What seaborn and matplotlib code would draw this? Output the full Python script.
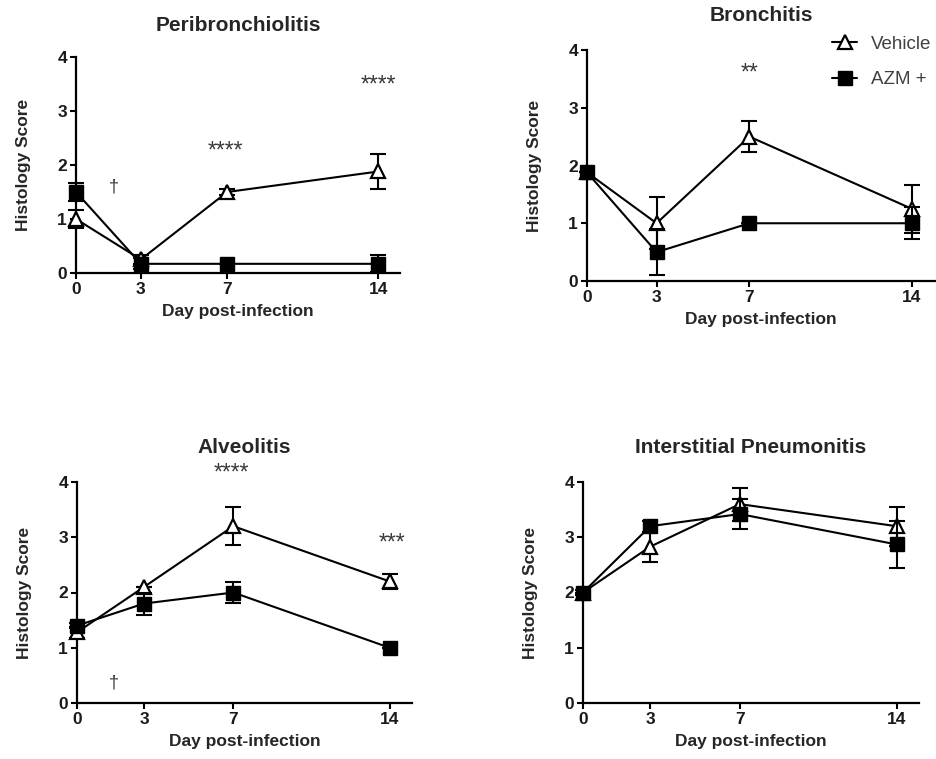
import matplotlib
matplotlib.use("Agg")
import matplotlib.pyplot as plt
import seaborn as sns
import numpy as np

sns.set_style("ticks")
plt.rcParams['font.family'] = ['Liberation Sans', 'DejaVu Sans']

days = [0, 3, 7, 14]
xtick_labels = ["0", "3", "7", "14"]
yticks = [0, 1, 2, 3, 4]

titles = ["Peribronchiolitis", "Bronchitis", "Alveolitis", "Interstitial Pneumonitis"]

veh_peri = [1.0, 0.25, 1.5, 1.88]
veh_peri_err = [0.17, 0.08, 0.05, 0.33]
azm_peri = [1.5, 0.17, 0.17, 0.17]
azm_peri_err = [0.17, 0.1, 0.0, 0.16]

veh_bron = [1.88, 1.0, 2.5, 1.25]
veh_bron_err = [0.0, 0.45, 0.27, 0.42]
azm_bron = [1.88, 0.5, 1.0, 1.0]
azm_bron_err = [0.0, 0.4, 0.0, 0.28]

veh_alv = [1.28, 2.1, 3.2, 2.2]
veh_alv_err = [0.1, 0.0, 0.34, 0.13]
azm_alv = [1.4, 1.8, 2.0, 1.0]
azm_alv_err = [0.05, 0.2, 0.19, 0.0]

veh_int = [2.0, 2.83, 3.6, 3.2]
veh_int_err = [0.0, 0.27, 0.3, 0.35]
azm_int = [2.0, 3.2, 3.42, 2.87]
azm_int_err = [0.05, 0.1, 0.27, 0.43]

# significance annotations: (text, x, y)
annot_peri = [("****", 6.9, 2.26), ("****", 14.0, 3.48), ("\u2020", 1.75, 1.6)]
annot_bron = [("**", 7.0, 3.6)]
annot_alv = [("****", 6.9, 4.16), ("***", 14.1, 2.89), ("\u2020", 1.65, 0.36)]
annot_int = []

panels = [
    (titles[0], veh_peri, veh_peri_err, azm_peri, azm_peri_err, annot_peri,
     [76/936, 1-273/759, 324/936, 216/759], 19),
    (titles[1], veh_bron, veh_bron_err, azm_bron, azm_bron_err, annot_bron,
     [587/936, 1-281/759, 348/936, 231/759], 21),
    (titles[2], veh_alv, veh_alv_err, azm_alv, azm_alv_err, annot_alv,
     [77/936, 1-703/759, 335/936, 221/759], 21),
    (titles[3], veh_int, veh_int_err, azm_int, azm_int_err, annot_int,
     [583/936, 1-703/759, 336/936, 221/759], 21),
]

fig = plt.figure(figsize=(9.36, 7.59), dpi=100)

for i, (title, veh, veh_err, azm, azm_err, annots, pos, tpad) in enumerate(panels):
    ax = fig.add_axes(pos)
    ax.errorbar(days, veh, yerr=veh_err, fmt='none', ecolor='black', elinewidth=1.5,
                capsize=6, capthick=1.5, zorder=2, clip_on=False)
    sns.lineplot(x=days, y=veh, ax=ax, color='black', linewidth=1.5, marker='^',
                 markersize=10.5, markerfacecolor='white', markeredgecolor='black',
                 markeredgewidth=1.6, label='Vehicle', zorder=3, clip_on=False,
                 errorbar=None)
    ax.errorbar(days, azm, yerr=azm_err, fmt='none', ecolor='black', elinewidth=1.5,
                capsize=6, capthick=1.5, zorder=4, clip_on=False)
    sns.lineplot(x=days, y=azm, ax=ax, color='black', linewidth=1.5, marker='s',
                 markersize=10, markerfacecolor='black', markeredgecolor='black',
                 markeredgewidth=1.0, label='AZM +', zorder=5, clip_on=False,
                 errorbar=None)
    ax.set_xlim(0, 15)
    ax.set_ylim(0, 4)
    ax.set_xticks(days)
    ax.set_xticklabels(xtick_labels)
    ax.set_yticks(yticks)
    ax.set_yticklabels([str(v) for v in yticks])
    sns.despine(ax=ax)
    for s in ['left', 'bottom']:
        ax.spines[s].set_linewidth(1.6)
        ax.spines[s].set_color('black')
    ax.tick_params(axis='both', direction='out', length=4.5, width=1.5, color='black',
                   labelsize=12.5, pad=2)
    for lab in ax.get_xticklabels() + ax.get_yticklabels():
        lab.set_fontweight('bold')
        lab.set_color('#1a1a1a')
    ax.set_xlabel("Day post-infection", fontsize=12.5, fontweight='bold', labelpad=5)
    ax.set_ylabel("Histology Score", fontsize=12.5, fontweight='bold', labelpad=19)
    ax.set_title(title, fontsize=15, fontweight='bold', pad=tpad)
    for txt, xx, yy in annots:
        fs = 16.5 if txt.startswith('*') else 13
        ax.text(xx, yy, txt, ha='center', va='center', fontsize=fs, color='#3a3a3a',
                clip_on=False)
    if i == 1:
        leg = ax.legend(loc='upper left', bbox_to_anchor=(0.705, 1.062), frameon=False,
                        fontsize=13.5, handlelength=1.3, handletextpad=0.75,
                        labelspacing=0.98, borderpad=0, borderaxespad=0)
        for t in leg.get_texts():
            t.set_color('#404040')
    else:
        lg = ax.get_legend()
        if lg is not None:
            lg.remove()

fig.savefig("out.png", dpi=100)
